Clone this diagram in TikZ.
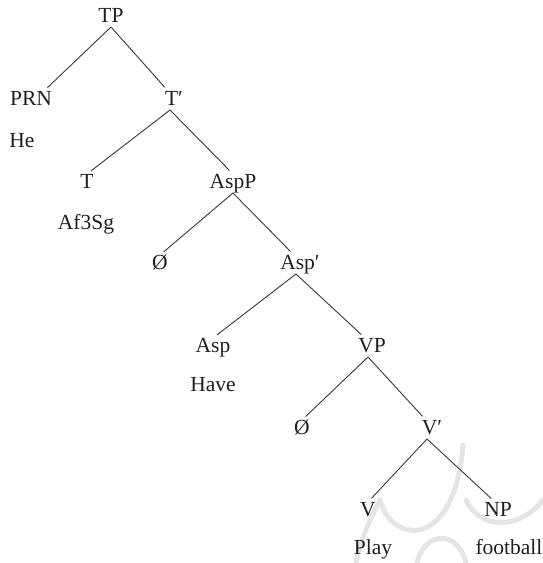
\documentclass[tikz,border=0pt]{standalone}
\usepackage{fontspec}
\setmainfont{Liberation Serif}
\begin{document}
\begin{tikzpicture}[x=1pt,y=-1pt,
  lab/.style={anchor=base,inner sep=0pt,outer sep=0pt,text height=14pt,text depth=5pt,
    font=\fontsize{21.5}{24}\selectfont,text=black!88},
  edge/.style={draw=black!78,line width=0.9pt,shorten >=5pt},
  wm/.style={draw=black!10,line width=5pt,line cap=round}]
\useasboundingbox (0,0) rectangle (543,563);
% faint watermark
\draw[wm] (380,500) .. controls (392,545) and (455,550) .. (463,445);
\draw[wm] (466,500) .. controls (480,530) and (520,530) .. (543,500);
\draw[wm] (417,563) .. controls (425,530) and (458,530) .. (466,563);
\draw[wm] (380,500) .. controls (370,520) and (360,540) .. (356,563);
% nodes
\node[lab] (TP) at (111,22) {TP};
\node[lab] (PRN) at (31,105) {PRN};
\node[lab] (He) at (22,147) {He};
\node[lab] (Tbar) at (174,105) {T′};
\node[lab] (T) at (87,188) {T};
\node[lab] (Af) at (86,229) {Af3Sg};
\node[lab] (AspP) at (233,188) {AspP};
\node[lab] (Z1) at (160,269) {Ø};
\node[lab] (Aspbar) at (300,269) {Asp′};
\node[lab] (Asp) at (213,352) {Asp};
\node[lab] (VP) at (372,352) {VP};
\node[lab] (Have) at (213,391) {Have};
\node[lab] (Z2) at (302,434) {Ø};
\node[lab] (Vbar) at (432,434) {V′};
\node[lab] (V) at (368,516) {V};
\node[lab] (NP) at (498,516) {NP};
\node[lab] (Play) at (373,554) {Play};
\node[lab] (Fb) at (509,554) {football};
% edges
\draw[edge] (TP.south) -- ([xshift=-8pt]PRN.north east);
\draw[edge] (TP.south) -- ([xshift=3pt]Tbar.north west);
\draw[edge] ([xshift=-4pt]Tbar.south) -- (T.north);
\draw[edge] ([xshift=-4pt]Tbar.south) -- (AspP.north);
\draw[edge] (AspP.south) -- (Z1.north);
\draw[edge] (AspP.south) -- ([xshift=-6pt]Aspbar.north);
\draw[edge] ([xshift=-4pt]Aspbar.south) -- (Asp.north);
\draw[edge] ([xshift=-4pt]Aspbar.south) -- ([xshift=-7pt]VP.north);
\draw[edge] ([xshift=-4pt]VP.south) -- (Z2.north);
\draw[edge] ([xshift=-4pt]VP.south) -- ([xshift=4pt]Vbar.north west);
\draw[edge] ([xshift=-5pt]Vbar.south) -- (V.north);
\draw[edge] ([xshift=-5pt]Vbar.south) -- ([xshift=-3pt]NP.north);
\end{tikzpicture}
\end{document}
